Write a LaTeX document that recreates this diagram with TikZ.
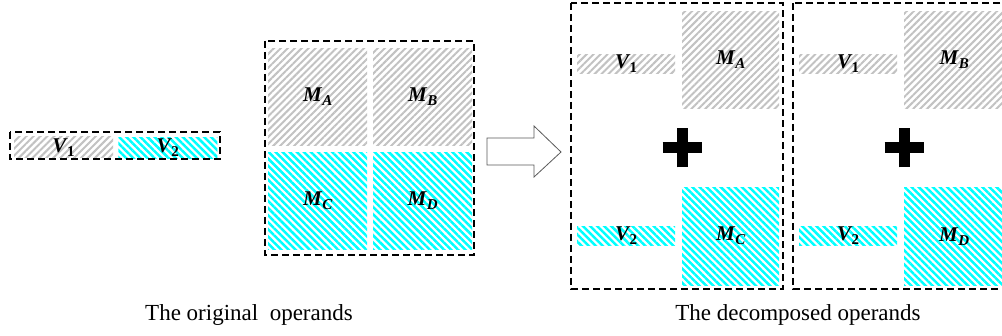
\documentclass[tikz,border=0pt]{standalone}
\usepackage{fontspec}
\setmainfont{Liberation Serif}
\usetikzlibrary{patterns.meta}
\tikzset{
 grayhatch/.style={pattern={Lines[angle=45,distance=4.9pt,line width=2pt]},pattern color=black!24},
 cyanhatch/.style={pattern={Lines[angle=-45,distance=5pt,line width=2.5pt]},pattern color=cyan},
 cell/.style={inner sep=0pt, anchor=north west, font=\fontsize{21}{21}\selectfont\bfseries\itshape},
 frame/.style={draw=black, line width=1.8pt, dash pattern=on 7pt off 4pt},
 caption/.style={font=\fontsize{23}{23}\selectfont, inner sep=0pt},
}
\newcommand{\lbl}[2]{#1\kern0.5pt\raisebox{-4pt}{\fontsize{15}{15}\selectfont #2}}
\begin{document}
\begin{tikzpicture}[x=1pt,y=-1pt]
\useasboundingbox (0,0) rectangle (1002,336);
\clip (0,0) rectangle (1002,336);
% original vector
\node[cell,grayhatch,minimum width=99pt,minimum height=21pt] (v1) at (13,136) {\lbl{V}{\upshape 1}};
\node[cell,cyanhatch,minimum width=99pt,minimum height=21pt] (v2) at (117,136) {\lbl{V}{\upshape 2}};
\draw[frame] (10,132) rectangle (220,159);
% original matrix
\node[cell,grayhatch,minimum width=99pt,minimum height=97pt] (ma) at (268,48) {\lbl{M}{A}};
\node[cell,grayhatch,minimum width=99pt,minimum height=97pt] (mb) at (373,48) {\lbl{M}{B}};
\node[cell,cyanhatch,minimum width=99pt,minimum height=97pt] (mc) at (268,152) {\lbl{M}{C}};
\node[cell,cyanhatch,minimum width=99pt,minimum height=97pt] (md) at (373,152) {\lbl{M}{D}};
\draw[frame] (265,41) rectangle (474,255);
% block arrow
\draw[draw=black!65, line width=0.8pt, line join=miter]
  (487,138) -- (534,138) -- (534,126) -- (561,152) -- (534,177) -- (534,165) -- (487,165) -- cycle;
% decomposed operands 1
\node[cell,grayhatch,minimum width=98pt,minimum height=19pt] (d1v1) at (577,54) {\lbl{V}{\upshape 1}};
\node[cell,grayhatch,minimum width=97pt,minimum height=97pt] (d1ma) at (682,11) {\lbl{M}{A}};
\node[cell,cyanhatch,minimum width=98pt,minimum height=19pt] (d1v2) at (577,226) {\lbl{V}{\upshape 2}};
\node[cell,cyanhatch,minimum width=97pt,minimum height=98pt] (d1mc) at (682,187) {\lbl{M}{C}};
\coordinate (p1) at (682,148);
\draw[line width=11pt] ([xshift=-19.5pt]p1) -- ([xshift=19.5pt]p1);
\draw[line width=11pt] ([yshift=-19.5pt]p1) -- ([yshift=19.5pt]p1);
\draw[frame] (571,3) rectangle (783,289);
% decomposed operands 2
\node[cell,grayhatch,minimum width=98pt,minimum height=19pt] (d2v1) at (799,54) {\lbl{V}{\upshape 1}};
\node[cell,grayhatch,minimum width=100pt,minimum height=97pt] (d2mb) at (904,11) {\lbl{M}{B}};
\node[cell,cyanhatch,minimum width=98pt,minimum height=19pt] (d2v2) at (799,226) {\lbl{V}{\upshape 2}};
\node[cell,cyanhatch,minimum width=100pt,minimum height=98pt] (d2md) at (904,187) {\lbl{M}{D}};
\coordinate (p2) at (904,148);
\draw[line width=11pt] ([xshift=-19.5pt]p2) -- ([xshift=19.5pt]p2);
\draw[line width=11pt] ([yshift=-19.5pt]p2) -- ([yshift=19.5pt]p2);
\draw[frame] (793,3) rectangle (1012,289);
% captions
\node[caption] (cap1) at (249,315) {The original\ \ operands};
\node[caption] (cap2) at (798,315) {The decomposed operands};
\end{tikzpicture}
\end{document}
